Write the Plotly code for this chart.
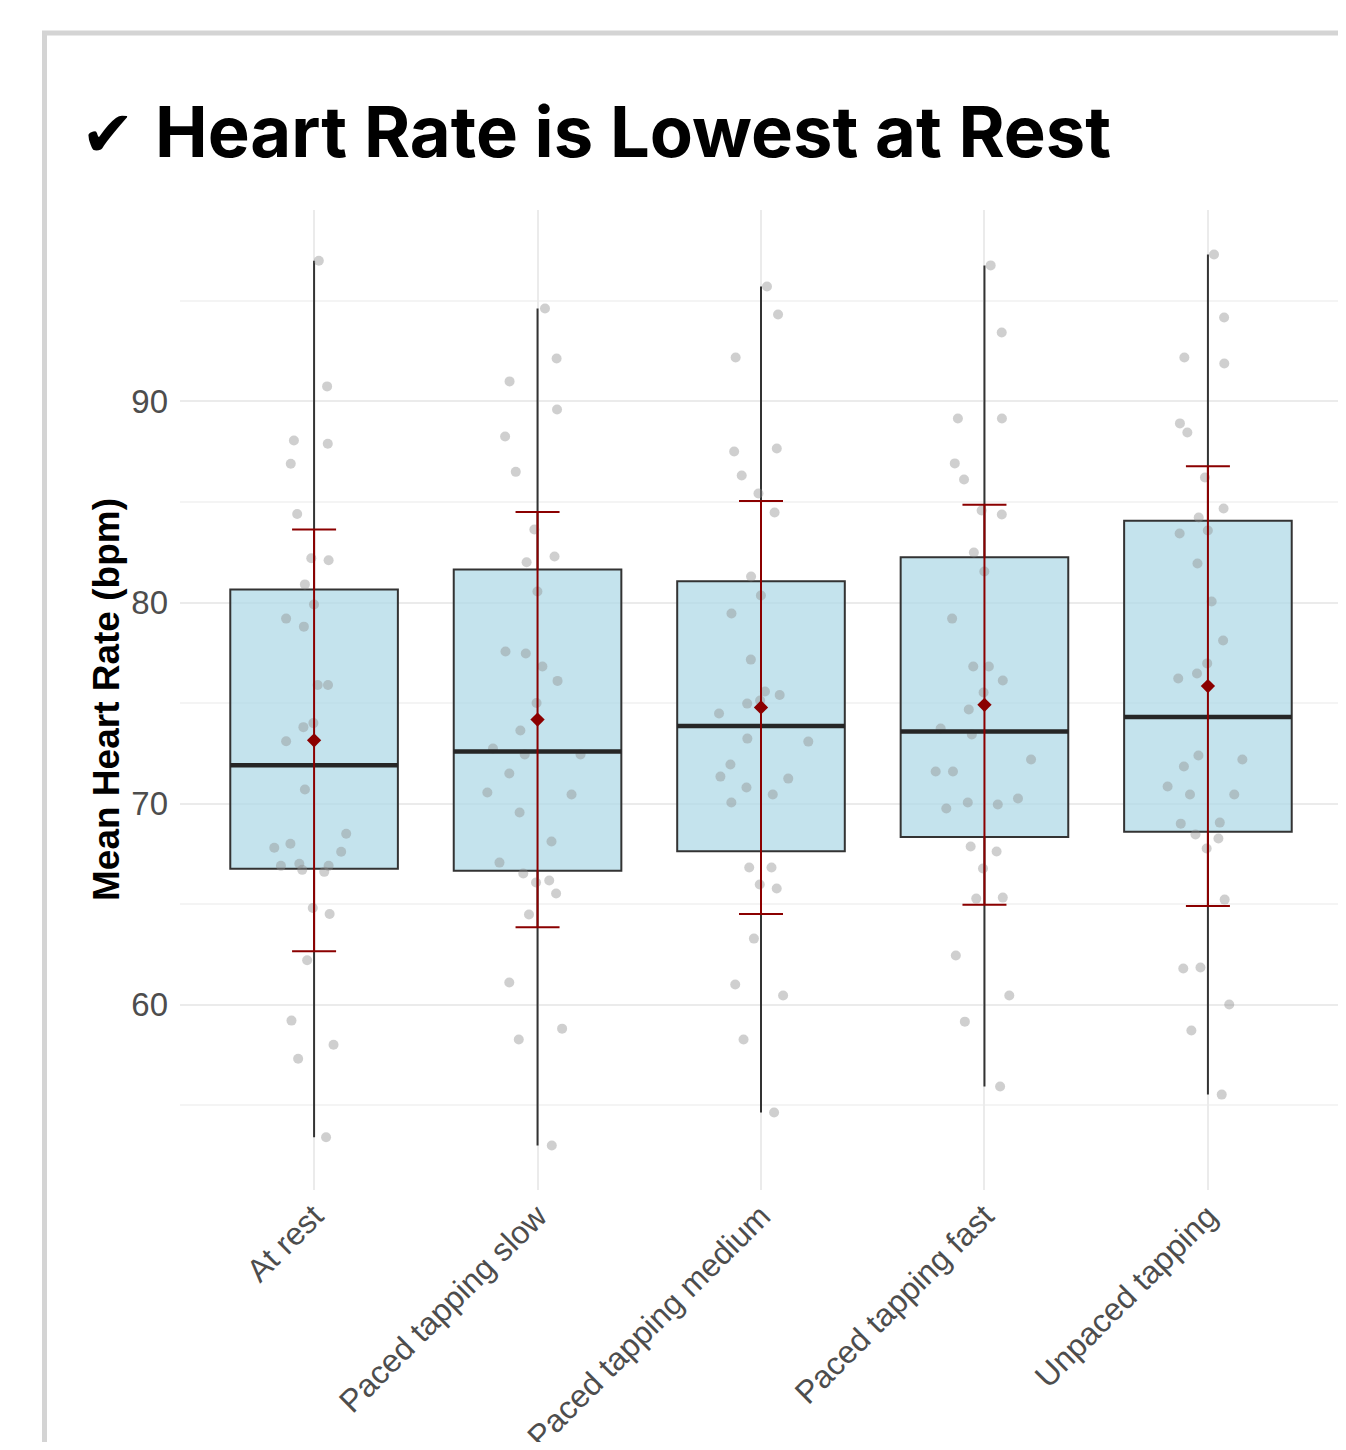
import numpy as np
import plotly.graph_objects as go

# ---------------- data ----------------
categories = ["At rest", "Paced tapping slow", "Paced tapping medium",
              "Paced tapping fast", "Unpaced tapping"]

hr_at_rest = [97.0, 90.75, 88.06, 87.9, 86.9, 84.4, 82.2, 82.1, 80.9, 79.9, 79.2, 78.8,
              75.9, 75.9, 74.0, 73.8, 73.1, 70.7, 68.5, 68.0, 67.8, 67.6, 67.0, 66.9,
              66.9, 66.7, 66.6, 64.8, 64.5, 62.2, 59.2, 58.0, 57.3, 53.4]
hr_slow = [94.63, 92.14, 91.0, 89.6, 88.26, 86.5, 83.63, 82.29, 82.0, 80.55, 77.56, 77.46,
           76.82, 76.1, 75.0, 73.63, 72.74, 72.44, 72.44, 71.49, 70.55, 70.45, 69.55, 68.11,
           67.06, 66.52, 66.17, 66.07, 65.52, 64.48, 61.1, 58.8, 58.26, 52.99]
hr_medium = [95.72, 94.33, 92.19, 87.66, 87.51, 86.32, 85.42, 84.48, 81.29, 80.35, 79.45,
             77.16, 75.57, 75.4, 75.12, 74.97, 74.48, 73.23, 73.08, 71.94, 71.34, 71.24,
             70.8, 70.45, 70.05, 66.82, 66.82, 65.97, 65.77, 63.28, 61.0, 60.45, 58.26, 54.63]
hr_fast = [96.77, 93.43, 89.15, 89.15, 86.92, 86.12, 84.58, 84.38, 82.49, 81.54, 79.2, 76.82,
           76.82, 76.12, 75.52, 74.68, 73.73, 73.43, 72.19, 71.59, 71.59, 70.25, 70.05, 69.95,
           69.75, 67.86, 67.61, 66.77, 65.32, 65.27, 62.44, 60.45, 59.15, 55.92]
hr_unpaced = [97.31, 94.18, 92.19, 91.89, 88.91, 88.46, 86.22, 84.68, 84.23, 83.58, 83.43,
              81.94, 80.05, 78.11, 76.97, 76.47, 76.22, 72.39, 72.19, 71.84, 70.85, 70.45,
              70.45, 69.05, 69.0, 68.46, 68.26, 67.76, 65.22, 61.84, 61.79, 60.0, 58.71, 55.52]

series = [hr_at_rest, hr_slow, hr_medium, hr_fast, hr_unpaced]
y_tick_values = [60, 70, 80, 90]
y_minor_values = [55, 65, 75, 85, 95]

title_text = "Heart Rate is Lowest at Rest"
y_title = "Mean Heart Rate (bpm)"

# ---------------- statistics ----------------
arrs = [np.array(s, dtype=float) for s in series]
q1s = [float(np.percentile(a, 25)) for a in arrs]
meds = [float(np.percentile(a, 50)) for a in arrs]
q3s = [float(np.percentile(a, 75)) for a in arrs]
mins = [float(a.min()) for a in arrs]
maxs = [float(a.max()) for a in arrs]
means = [float(a.mean()) for a in arrs]
sds = [float(a.std(ddof=1)) for a in arrs]

allv = np.concatenate(arrs)
span = allv.max() - allv.min()
y_range = [allv.min() - 0.05 * span, allv.max() + 0.05 * span]

# ---------------- layout geometry ----------------
OFF = 8  # page body margin
W, H = 1346 - OFF, 1450 - 2 * OFF
L, R, T = 180 - OFF, 4, 210 - OFF
B = H - T - 980
PW, PH = W - L - R, H - T - B
BOX_W = 0.75
x_range = [-0.6, len(categories) - 1 + 0.6]
box_px = BOX_W * PW / (x_range[1] - x_range[0])


def px_x(px):
    return (px - OFF - L) / PW


def px_y(py):
    return 1 - (py - OFF - T) / PH


fig = go.Figure()

# box with min/max whiskers
fig.add_trace(go.Box(
    x=categories, q1=q1s, median=meds, q3=q3s,
    lowerfence=mins, upperfence=maxs,
    boxpoints=False, width=BOX_W, whiskerwidth=0,
    fillcolor="rgba(173,216,230,0.72)",
    line=dict(color="#333333", width=2),
    hoverinfo="skip",
))

# thick median line
fig.add_trace(go.Scatter(
    x=categories, y=meds, mode="markers",
    marker=dict(symbol="line-ew", size=box_px / 1.4,
                line=dict(color="#262626", width=4.5)),
    hoverinfo="skip",
))

# jittered points
for cat, vals in zip(categories, series):
    fig.add_trace(go.Box(
        x=[cat] * len(vals), y=vals,
        boxpoints="all", jitter=0.65, pointpos=0, width=BOX_W,
        fillcolor="rgba(0,0,0,0)",
        line=dict(color="rgba(0,0,0,0)", width=0),
        marker=dict(color="rgba(140,140,140,0.42)", size=10),
        hoverinfo="skip",
    ))

# mean +/- SD
fig.add_trace(go.Scatter(
    x=categories, y=means, mode="markers",
    marker=dict(symbol="diamond", size=11, color="#8B0000"),
    error_y=dict(type="data", array=sds, symmetric=True,
                 color="#8B0000", thickness=2, width=22),
    hoverinfo="skip",
))

x_tick_font = dict(family="Liberation Sans, Arial, sans-serif", size=32, color="#4d4d4d")
y_tick_font = dict(family="Liberation Sans, Arial, sans-serif", size=33, color="#4d4d4d")

fig.update_layout(
    width=W, height=H,
    margin=dict(l=L, r=R, t=T, b=B, autoexpand=False),
    paper_bgcolor="white", plot_bgcolor="white",
    showlegend=False, boxmode="overlay",
    xaxis=dict(
        type="category", range=x_range,
        showgrid=True, gridcolor="#ebebeb", gridwidth=2,
        zeroline=False, showline=False, ticks="",
        tickangle=-45, tickfont=x_tick_font,
    ),
    yaxis=dict(
        range=y_range, tickmode="array", tickvals=y_tick_values,
        showgrid=True, gridcolor="#ebebeb", gridwidth=2,
        zeroline=False, showline=False, ticks="",
        tickfont=y_tick_font, ticklabelstandoff=11,
        minor=dict(tickmode="array", tickvals=y_minor_values,
                   showgrid=True, gridcolor="#f4f4f4", gridwidth=2, ticks=""),
    ),
    shapes=[dict(
        type="rect", xref="paper", yref="paper",
        x0=px_x(44.5), x1=px_x(1420), y0=px_y(33), y1=px_y(1520),
        line=dict(color="#d4d4d4", width=5), fillcolor="rgba(0,0,0,0)",
        layer="below",
    )],
    annotations=[
        dict(text="<b>✔</b>", xref="paper", yref="paper",
             x=px_x(108), y=px_y(134), xanchor="center", yanchor="middle",
             showarrow=False,
             font=dict(family="DejaVu Sans", size=64, color="black")),
        dict(text="<b>" + title_text + "</b>", xref="paper", yref="paper",
             x=px_x(153), y=px_y(132), xanchor="left", yanchor="middle",
             showarrow=False,
             font=dict(family="Inter, Roboto, sans-serif", size=70.5, color="black")),
        dict(text="<b>" + y_title + "</b>", xref="paper", yref="paper",
             x=px_x(106), y=0.5, xanchor="center", yanchor="middle",
             textangle=-90, showarrow=False,
             font=dict(family="Liberation Sans, Arial, sans-serif", size=37, color="black")),
    ],
)

fig.write_html("out.html")
